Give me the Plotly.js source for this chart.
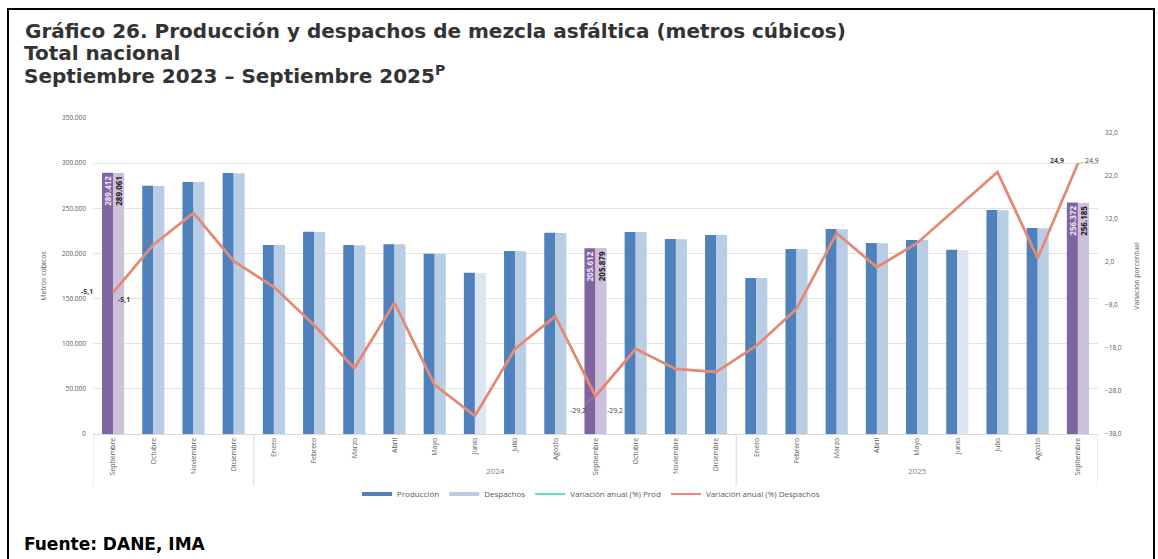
<!DOCTYPE html>
<html>
<head>
<meta charset="utf-8">
<script src="https://cdn.plot.ly/plotly-3.0.1.min.js"></script>
<style>
  html, body { margin: 0; padding: 0; background: #ffffff; }
  #frame { position: absolute; left: 7px; top: 8px; width: 1144px; height: 560px;
           border-left: 2px solid #000; border-top: 2px solid #000; border-right: 2px solid #000; }
  #chart { position: absolute; left: 0; top: 0; width: 1158px; height: 559px; }
</style>
</head>
<body>
<div id="frame"></div>
<div id="chart"></div>
<script>
// ---- Data ----
const months = ['Septiembre','Octubre','Noviembre','Diciembre','Enero','Febrero','Marzo','Abril','Mayo','Junio','Julio','Agosto',
                'Septiembre','Octubre','Noviembre','Diciembre','Enero','Febrero','Marzo','Abril','Mayo','Junio','Julio','Agosto','Septiembre'];
const years = ['2024', '2025'];
const produccion = [289412, 275000, 279200, 289000, 209400, 224000, 209200, 210300, 199600, 178600, 202700, 222800,
                    205612, 223800, 216000, 220500, 172800, 205000, 227000, 211500, 215000, 204000, 248000, 228200, 256372];
const despachos  = [289061, 274800, 279000, 288800, 209300, 223800, 209000, 210100, 199400, 178400, 202500, 222600,
                    205879, 223600, 215800, 220300, 172700, 204800, 226800, 211300, 214800, 203900, 247800, 228000, 256185];
const varProd      = [-5.1, 6.0, 13.4, 2.2, -3.8, -12.7, -22.7, -7.5, -26.6, -33.8, -18.2, -10.6,
                      -29.2, -18.2, -22.9, -23.6, -17.5, -8.9, 8.7, 0.8, 6.4, 14.6, 22.9, 2.9, 24.9];
const varDespachos = [-5.1, 6.0, 13.4, 2.2, -3.8, -12.7, -22.7, -7.5, -26.6, -33.8, -18.2, -10.6,
                      -29.2, -18.2, -22.9, -23.6, -17.5, -8.9, 8.7, 0.8, 6.4, 14.6, 22.9, 2.9, 24.9];
const highlighted = [0, 12, 24];      // meses destacados (septiembre)
const leftTicks  = [0, 50000, 100000, 150000, 200000, 250000, 300000, 350000];
const rightTicks = [-38, -28, -18, -8, 2, 12, 22, 32];

// ---- Helpers ----
const idx = months.map((m, i) => i);
const fmtThousands = v => Math.round(v).toString().replace(/\B(?=(\d{3})+(?!\d))/g, '.');
const fmtPct = v => v.toFixed(1).replace('.', ',');

const C_PROD = '#4F81BD', C_DESP = '#B9CDE5', C_VPROD = '#5EE3B3', C_VDESP = '#F4826E';
const prodColors = idx.map(i => highlighted.includes(i) ? '#8064A2' : C_PROD);
const despColors = idx.map(i => highlighted.includes(i) ? '#CCC1DA' : (months[i] === 'Junio' ? '#DCE6F2' : C_DESP));
const prodText = idx.map(i => highlighted.includes(i) ? '<b>' + fmtThousands(produccion[i]) + '</b>' : ' ');
const despText = idx.map(i => highlighted.includes(i) ? '<b>' + fmtThousands(despachos[i]) + '</b>' : ' ');

const traces = [
  { type: 'bar', name: 'Producción', x: idx, y: produccion, marker: { color: prodColors }, showlegend: false,
    text: prodText, textposition: 'inside', insidetextanchor: 'end', textangle: -90,
    textfont: { size: 8, color: '#EDE7F6', family: 'Open Sans' }, constraintext: 'none', hoverinfo: 'skip' },
  { type: 'bar', name: 'Despachos', x: idx, y: despachos, marker: { color: despColors }, showlegend: false,
    text: despText, textposition: 'inside', insidetextanchor: 'end', textangle: -90,
    textfont: { size: 8, color: '#1a1a1a', family: 'Open Sans' }, constraintext: 'none', hoverinfo: 'skip' },
  { type: 'scatter', mode: 'lines', name: 'Variación anual (%) Prod', x: idx, y: varProd, yaxis: 'y2',
    line: { color: C_VPROD, width: 2.5 }, showlegend: false, hoverinfo: 'skip' },
  { type: 'scatter', mode: 'lines', name: 'Variación anual (%) Despachos', x: idx, y: varDespachos, yaxis: 'y2',
    line: { color: C_VDESP, width: 2.5 }, showlegend: false, hoverinfo: 'skip' },
  // legend entries (line symbols as in the reference)
  { type: 'scatter', mode: 'lines', name: 'Producción', x: [null], y: [null], line: { color: C_PROD, width: 4 }, legendrank: 1 },
  { type: 'scatter', mode: 'lines', name: 'Despachos', x: [null], y: [null], line: { color: C_DESP, width: 4 }, legendrank: 2 },
  { type: 'scatter', mode: 'lines', name: 'Variación anual (%) Prod', x: [null], y: [null], line: { color: C_VPROD, width: 2 }, legendrank: 3 },
  { type: 'scatter', mode: 'lines', name: 'Variación anual (%) Despachos', x: [null], y: [null], line: { color: C_VDESP, width: 2 }, legendrank: 4 }
];

// Plot area: x 93..1098, y 118..434
const W = 1158, H = 559, L = 93, R = 1098, T = 118, B = 434;
const px = x => (x - L) / (R - L);
const py = y => (B - y) / (B - T);

const shapes = [-0.5, 3.5, 15.5, 24.5].map(x => ({
  type: 'line', xref: 'x', yref: 'paper', x0: x, x1: x, y0: 0, y1: py(486),
  line: { color: '#D9D9D9', width: 1 }
}));

const lblFont = { size: 7, color: '#404040', family: 'Open Sans' };
const titleFont = { size: 20, color: '#333333', family: 'DejaVu Sans' };
const annotations = [
  { x: px(22), y: py(53), xref: 'paper', yref: 'paper', xanchor: 'left', yanchor: 'middle', showarrow: false,
    text: '<b>Total nacional</b>', font: titleFont },
  { x: px(22), y: py(75), xref: 'paper', yref: 'paper', xanchor: 'left', yanchor: 'middle', showarrow: false,
    text: '<b>Septiembre 2023 – Septiembre 2025<sup>P</sup></b>', font: titleFont },
  { x: 9.5, y: py(478), xref: 'x', yref: 'paper', text: years[0], showarrow: false, font: { size: 8, color: '#7f7f7f', family: 'Open Sans' } },
  { x: 20, y: py(478), xref: 'x', yref: 'paper', text: years[1], showarrow: false, font: { size: 8, color: '#7f7f7f', family: 'Open Sans' } },
  { x: 0, y: varProd[0], xref: 'x', yref: 'y2', text: '<b>' + fmtPct(varProd[0]) + '</b>', showarrow: false, xshift: -26, yshift: 1, font: lblFont },
  { x: 0, y: varDespachos[0], xref: 'x', yref: 'y2', text: '<b>' + fmtPct(varDespachos[0]) + '</b>', showarrow: false, xshift: 11, yshift: -7, font: lblFont },
  { x: 12, y: varProd[12], xref: 'x', yref: 'y2', text: fmtPct(varProd[12]), showarrow: true, arrowhead: 0, arrowwidth: 0.6, arrowcolor: '#A6A6A6', ax: -18, ay: 14, font: lblFont },
  { x: 12, y: varDespachos[12], xref: 'x', yref: 'y2', text: fmtPct(varDespachos[12]), showarrow: false, xshift: 19, yshift: -14, font: lblFont },
  { x: 24, y: varProd[24], xref: 'x', yref: 'y2', text: '<b>' + fmtPct(varProd[24]) + '</b>', showarrow: false, xshift: -21, yshift: 3, font: lblFont },
  { x: 24, y: varDespachos[24], xref: 'x', yref: 'y2', text: fmtPct(varDespachos[24]), showarrow: true, arrowhead: 0, arrowwidth: 0.6, arrowcolor: '#A6A6A6', ax: 14, ay: -3, font: lblFont },
  { x: px(22), y: py(544), xref: 'paper', yref: 'paper', xanchor: 'left', yanchor: 'middle', text: '<b>Fuente: DANE, IMA</b>',
    showarrow: false, font: { size: 17, color: '#000000', family: 'DejaVu Sans' } }
];

const layout = {
  width: W, height: H,
  margin: { l: L, r: W - R, t: T, b: H - B, pad: 0 },
  paper_bgcolor: 'rgba(0,0,0,0)', plot_bgcolor: 'rgba(0,0,0,0)',
  separators: ',.',
  font: { family: 'Open Sans', color: '#595959' },
  title: {
    text: '<b>Gráfico 26. Producción y despachos de mezcla asfáltica (metros cúbicos)</b>',
    xref: 'container', yref: 'container', x: 25 / W, xanchor: 'left', y: 1 - 31 / H, yanchor: 'middle',
    font: titleFont
  },
  barmode: 'group', bargap: 0.45, bargroupgap: 0,
  showlegend: true,
  legend: { orientation: 'h', x: px(591), xanchor: 'center', y: py(494), yanchor: 'middle',
            font: { size: 8, color: '#595959' }, itemwidth: 30, tracegroupgap: 0, traceorder: 'normal' },
  xaxis: {
    range: [-0.5, 24.5], tickmode: 'array', tickvals: idx, ticktext: months, tickangle: -90,
    tickfont: { size: 7, color: '#595959' }, showgrid: false, zeroline: false,
    showline: true, linecolor: '#D9D9D9', linewidth: 1, ticks: ''
  },
  yaxis: {
    range: [0, 350000], tickmode: 'array', tickvals: leftTicks, tickformat: ',d',
    tickfont: { size: 6.5, color: '#595959' }, gridcolor: '#E3E3E3', gridwidth: 1, zeroline: false,
    ticklabelstandoff: 6,
    title: { text: 'Metros cúbicos', font: { size: 7, color: '#595959' }, standoff: 14 }
  },
  yaxis2: {
    overlaying: 'y', side: 'right', range: [-38, -38 + (B - T) / 4.30],
    tickmode: 'array', tickvals: rightTicks, tickformat: '.1f',
    tickfont: { size: 6.5, color: '#595959' }, showgrid: false, zeroline: false,
    ticklabelstandoff: 6,
    title: { text: 'Variación porcentual', font: { size: 7, color: '#595959' }, standoff: 13 }
  },
  shapes: shapes,
  annotations: annotations
};

Plotly.newPlot('chart', traces, layout, { displayModeBar: false, staticPlot: true });
</script>
</body>
</html>
